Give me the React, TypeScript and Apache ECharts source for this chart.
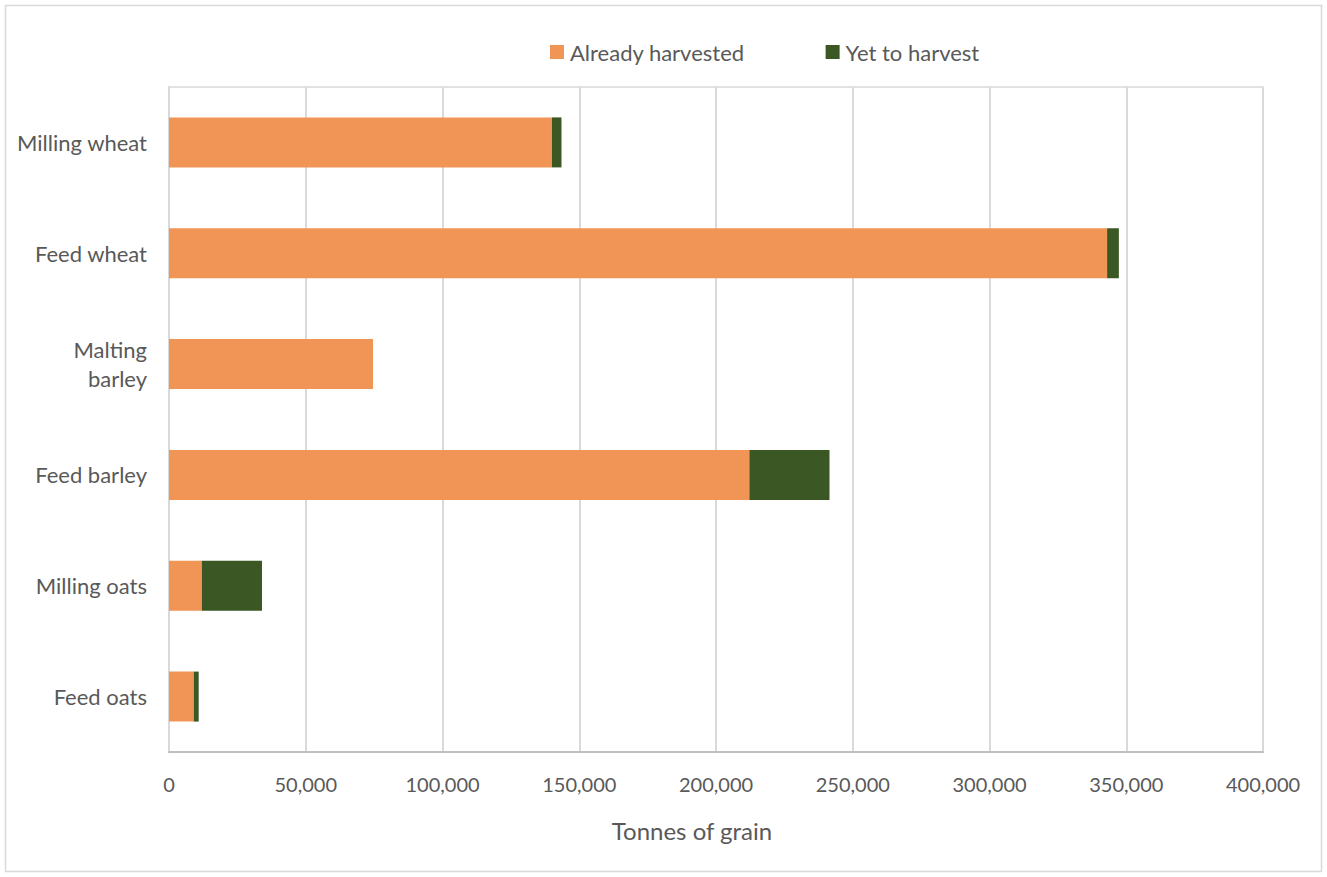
import React, { useEffect, useRef } from "react";
import * as echarts from "echarts";

const categories = ["Milling wheat", "Feed wheat", "Malting\nbarley", "Feed barley", "Milling oats", "Feed oats"];
const alreadyHarvested = [140000, 343000, 74600, 212200, 12000, 9050];
const yetToHarvest = [3500, 4300, 0, 29300, 22000, 1800];
const xTicks = [0, 50000, 100000, 150000, 200000, 250000, 300000, 350000, 400000];

const FONT = "Lato, 'Open Sans', sans-serif";
const TEXT = "#595959";

export default function App() {
  const ref = useRef<HTMLDivElement>(null);
  useEffect(() => {
    if (!ref.current) return;
    const chart = echarts.init(ref.current, null, { renderer: "svg" });
    chart.setOption({
      animation: false,
      backgroundColor: "#ffffff",
      textStyle: { fontFamily: FONT },
      graphic: [
        {
          type: "rect",
          shape: { x: 5.5, y: 5.5, width: 1316, height: 866 },
          style: { fill: "none", stroke: "#d9d9d9", lineWidth: 1.5 },
          silent: true,
        },
      ],
      legend: {
        top: 36,
        left: 545,
        itemWidth: 14,
        itemHeight: 14,
        itemGap: 81,
        icon: "rect",
        textStyle: { fontSize: 22, color: TEXT, fontFamily: FONT, padding: [0, 0, 0, 1] },
        data: ["Already harvested", "Yet to harvest"],
      },
      grid: {
        left: 169,
        right: 64,
        top: 87,
        bottom: 125,
        show: true,
        borderColor: "#d9d9d9",
        borderWidth: 1.5,
      },
      xAxis: {
        type: "value",
        min: xTicks[0],
        max: xTicks[xTicks.length - 1],
        interval: 50000,
        name: "Tonnes of grain",
        nameLocation: "middle",
        nameGap: 66,
        nameTextStyle: { fontSize: 24, color: TEXT, fontFamily: FONT, padding: [0, 48, 0, 0] },
        axisLine: { show: true, lineStyle: { color: "#bfbfbf", width: 2 } },
        axisTick: { show: false },
        axisLabel: {
          fontSize: 20,
          color: TEXT,
          margin: 22,
          formatter: (v: number) => v.toLocaleString("en-US"),
        },
        splitLine: { show: true, lineStyle: { color: "#d9d9d9", width: 2 } },
      },
      yAxis: {
        type: "category",
        inverse: true,
        data: categories,
        axisLine: { show: true, lineStyle: { color: "#d9d9d9", width: 2 } },
        axisTick: { show: false },
        axisLabel: { fontSize: 22, color: TEXT, margin: 22, lineHeight: 29, align: "right" },
      },
      series: [
        {
          name: "Already harvested",
          type: "bar",
          stack: "total",
          barWidth: 50,
          itemStyle: { color: "#F09555" },
          data: alreadyHarvested,
        },
        {
          name: "Yet to harvest",
          type: "bar",
          stack: "total",
          barWidth: 50,
          itemStyle: { color: "#3A5724" },
          data: yetToHarvest,
        },
      ],
    });
    return () => chart.dispose();
  }, []);
  return (
    <div
      ref={ref}
      style={{ position: "absolute", left: 0, top: 0, width: 1327, height: 877 }}
    />
  );
}
